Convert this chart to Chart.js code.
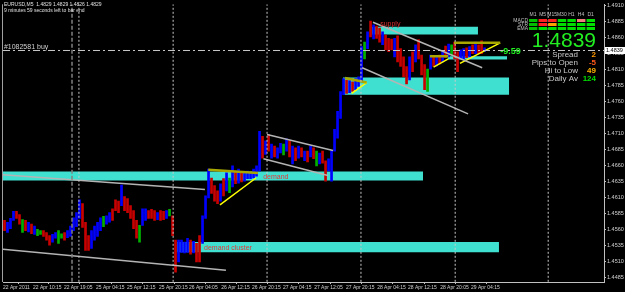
<!DOCTYPE html>
<html>
<head>
<meta charset="utf-8">
<script src="https://cdn.jsdelivr.net/npm/chart.js@4.4.0/dist/chart.umd.min.js"></script>
<style>
  html, body { margin: 0; padding: 0; background: #000; }
  #wrap { width: 625px; height: 292px; position: relative; }
</style>
</head>
<body>
<div id="wrap"><canvas id="priceChart"></canvas></div>
<script>
// EURUSD M5 - bar highs / lows
const highs = [
  1.4574, 1.4571, 1.4577, 1.4588, 1.4588, 1.4583, 1.4575, 1.4574, 1.4571, 1.4568,
  1.4565, 1.4560, 1.4558, 1.4558, 1.4555, 1.4550, 1.4552, 1.4555, 1.4558, 1.4553,
  1.4555, 1.4558, 1.4565, 1.4578, 1.4586, 1.4606, 1.4600, 1.4571, 1.4550, 1.4558,
  1.4565, 1.4571, 1.4578, 1.4580, 1.4581, 1.4586, 1.4592, 1.4606, 1.4604, 1.4629,
  1.4611, 1.4608, 1.4597, 1.4589, 1.4574, 1.4566, 1.4592, 1.4592, 1.4589, 1.4591,
  1.4589, 1.4586, 1.4589, 1.4588, 1.4589, 1.4591, 1.4581, 1.4543, 1.4543, 1.4543,
  1.4540, 1.4546, 1.4543, 1.4541, 1.4538, 1.4550, 1.4581, 1.4612, 1.4654, 1.4640,
  1.4628, 1.4620, 1.4631, 1.4639, 1.4648, 1.4640, 1.4659, 1.4651, 1.4654, 1.4648,
  1.4648, 1.4651, 1.4648, 1.4654, 1.4659, 1.4713, 1.4705, 1.4698, 1.4708, 1.4693,
  1.4690, 1.4687, 1.4694, 1.4693, 1.4701, 1.4698, 1.4690, 1.4687, 1.4690, 1.4687,
  1.4682, 1.4682, 1.4690, 1.4687, 1.4682, 1.4679, 1.4682, 1.4667, 1.4670, 1.4682,
  1.4716, 1.4744, 1.4775, 1.4795, 1.4793, 1.4792, 1.4790, 1.4795, 1.4798, 1.4845,
  1.4852, 1.4868, 1.4885, 1.4879, 1.4877, 1.4874, 1.4868, 1.4863, 1.4858, 1.4857,
  1.4858, 1.4862, 1.4842, 1.4829, 1.4814, 1.4829, 1.4837, 1.4848, 1.4856, 1.4832,
  1.4817, 1.4810, 1.4832, 1.4829, 1.4831, 1.4832, 1.4837, 1.4846, 1.4849, 1.4848,
  1.4852, 1.4837, 1.4840, 1.4842, 1.4843, 1.4845, 1.4848, 1.4852, 1.4848, 1.4854,
  1.4843
];
const lows = [
  1.4558, 1.4555, 1.4561, 1.4574, 1.4577, 1.4568, 1.4555, 1.4558, 1.4556, 1.4553,
  1.4552, 1.4550, 1.4552, 1.4549, 1.4543, 1.4535, 1.4540, 1.4546, 1.4538, 1.4546,
  1.4543, 1.4547, 1.4549, 1.4558, 1.4564, 1.4577, 1.4563, 1.4527, 1.4527, 1.4530,
  1.4543, 1.4549, 1.4558, 1.4564, 1.4568, 1.4571, 1.4574, 1.4589, 1.4586, 1.4597,
  1.4589, 1.4586, 1.4577, 1.4561, 1.4546, 1.4540, 1.4566, 1.4574, 1.4577, 1.4577,
  1.4574, 1.4575, 1.4574, 1.4575, 1.4577, 1.4581, 1.4550, 1.4493, 1.4509, 1.4524,
  1.4523, 1.4524, 1.4521, 1.4523, 1.4509, 1.4509, 1.4538, 1.4577, 1.4609, 1.4616,
  1.4604, 1.4600, 1.4604, 1.4612, 1.4620, 1.4617, 1.4626, 1.4631, 1.4632, 1.4634,
  1.4635, 1.4639, 1.4639, 1.4640, 1.4643, 1.4651, 1.4671, 1.4677, 1.4682, 1.4671,
  1.4673, 1.4671, 1.4679, 1.4676, 1.4682, 1.4673, 1.4662, 1.4667, 1.4671, 1.4673,
  1.4667, 1.4665, 1.4673, 1.4670, 1.4659, 1.4662, 1.4663, 1.4635, 1.4651, 1.4635,
  1.4682, 1.4702, 1.4733, 1.4770, 1.4772, 1.4773, 1.4775, 1.4778, 1.4783, 1.4790,
  1.4826, 1.4842, 1.4860, 1.4857, 1.4858, 1.4852, 1.4848, 1.4840, 1.4837, 1.4840,
  1.4829, 1.4821, 1.4814, 1.4798, 1.4787, 1.4793, 1.4806, 1.4821, 1.4826, 1.4801,
  1.4778, 1.4775, 1.4810, 1.4814, 1.4815, 1.4818, 1.4821, 1.4828, 1.4829, 1.4832,
  1.4826, 1.4806, 1.4825, 1.4826, 1.4828, 1.4829, 1.4834, 1.4834, 1.4834, 1.4834,
  1.4837
];
// r = bear, b = bull, g = doji
const candleDir = 'rbbbrrgrbr' + 'bggrrrbbgg' + 'rbbbbbrrrb' + 'bbbgbbrrrb' + 'rrrrrgbbrr' +
  'rbrrbgrrbb' + 'bbrbrrbbbr' + 'rrbrbgbrbr' + 'bbbbbbrbrb' + 'rbbgbrbrbr' +
  'brbrgbrrbb' + 'bbbbrbrbbb' + 'gbrbrrbrrr' + 'brrrrbrbrr' + 'rgbrbrbrbg' +
  'rrbbrbrbrr' + 'b';

const yTicks = [1.4485, 1.4510, 1.4535, 1.4560, 1.4585, 1.4610, 1.4635, 1.4660, 1.4685,
  1.4710, 1.4735, 1.4760, 1.4785, 1.4810, 1.4835, 1.4860, 1.4885, 1.4910];
const xTickPos = [-0.5, 9.5, 19.8, 30.5, 40.8, 51.5, 61.5, 72.2, 82.5, 92.8, 103.2, 113.8,
  124.2, 134.5, 145.2, 155.5];
const xTickLabels = ['22 Apr 2011', '22 Apr 10:15', '22 Apr 19:05', '25 Apr 04:15', '25 Apr 12:15',
  '25 Apr 20:15', '26 Apr 04:05', '26 Apr 12:15', '26 Apr 20:15', '27 Apr 04:15', '27 Apr 12:05',
  '27 Apr 20:15', '28 Apr 04:15', '28 Apr 12:15', '28 Apr 20:05', '29 Apr 04:15'];

const separators = [24.8, 56.2, 87.5, 118.8, 150.2, 181.2];
const bidPrice = 1.4839;

// supply / demand rectangles: [fromBar, toBar, top, bottom]
const zones = [
  [-0.5, 139.5, 1.4650, 1.4636],
  [57.5, 164.8, 1.4540, 1.4524],
  [112.8, 168.2, 1.4797, 1.4770],
  [122.5, 157.8, 1.4876, 1.4864],
  [147.8, 167.5, 1.4830, 1.4825]
];
// trend lines: [x1, y1, x2, y2]
const trendLines = [
  [-0.5, 1.4529, 73.8, 1.4496],
  [-0.5, 1.4645, 66.8, 1.4622],
  [87.5, 1.4708, 109.5, 1.4683],
  [86.3, 1.4670, 107.8, 1.4644],
  [122.8, 1.4883, 159.2, 1.4812],
  [119.2, 1.4812, 154.5, 1.4740]
];
const triangleTops = [
  [67.9, 1.4653, 84.5, 1.4648],
  [113.5, 1.4796, 120.7, 1.4789],
  [141.8, 1.4830, 147.9, 1.4830],
  [149.8, 1.4851, 165.2, 1.4851]
];
const triangleBottoms = [
  [71.8, 1.4598, 83.8, 1.4640],
  [115.7, 1.4772, 120.7, 1.4789],
  [143.0, 1.4813, 147.9, 1.4826],
  [151.8, 1.4819, 165.2, 1.4851]
];

const notes = [
  { text: 'supply', x: 125.2, y: 1.4881, color: '#d83030' },
  { text: 'demand', x: 86.2, y: 1.4642, color: '#e03a3a' },
  { text: 'demand cluster', x: 66.5, y: 1.4530, color: '#e03a3a' },
  { text: '#1082581 buy', x: -0.2, y: 1.4845, color: '#d0d0d0' }
];

const panelRows = ['MACD', 'STR', 'EMA'];
const panelCols = ['M1', 'M5', 'M15', 'M30', 'H1', 'H4', 'D1'];
const panelCells = [
  ['#00c000', '#ff2020', '#ff2020', '#00e000', '#00e000', '#f08080', '#00e000'],
  ['#00c000', '#ff2020', '#ffa000', '#00e000', '#00e000', '#00e000', '#00e000'],
  ['#00c000', '#00e000', '#00e000', '#00e000', '#00e000', '#00e000', '#00e000']
];
const statLabels = ['Spread', 'Pips to Open', 'Hi to Low', 'Daily Av'];
const statValues = ['2', '-5', '49', '124'];
const statColors = ['#ff9900', '#ff5a1a', '#ffb000', '#00e000'];

const colorOf = { r: '#c80000', b: '#0000ff', g: '#00b000' };
const line = (pts, color, width, dash) => ({
  type: 'line',
  data: [{ x: pts[0], y: pts[1] }, { x: pts[2], y: pts[3] }],
  borderColor: color, borderWidth: width, borderDash: dash || [],
  pointRadius: 0, fill: false, tension: 0, order: 1
});

const datasets = [];
zones.forEach(z => {
  datasets.push({
    type: 'line', data: [{ x: z[0], y: z[2] }, { x: z[1], y: z[2] }],
    borderWidth: 0, pointRadius: 0, fill: '+1', backgroundColor: '#40e0d0', order: 5
  });
  datasets.push({
    type: 'line', data: [{ x: z[0], y: z[3] }, { x: z[1], y: z[3] }],
    borderWidth: 0, pointRadius: 0, fill: false, order: 5
  });
});
separators.forEach(s => datasets.push(line([s, 1.4478, s, 1.4911], '#c8c8c8', 1, [2, 2])));
datasets.push(line([22.5, 1.4478, 22.5, 1.4911], '#808080', 1.5, [4, 2]));
datasets.push(line([-0.5, bidPrice, 199.8, bidPrice], '#c8c8c8', 1, [7, 3, 2, 3]));
datasets.push({
  type: 'bar',
  data: lows.map((l, i) => ({ x: i, y: [l, highs[i]] })),
  backgroundColor: candleDir.split('').map(c => colorOf[c]),
  barThickness: 2, grouped: false, order: 3
});
trendLines.forEach(t => datasets.push(line(t, '#b4b4b4', 1.5)));
triangleTops.forEach(t => datasets.push(line(t, '#a8a800', 2.5)));
triangleBottoms.forEach(t => datasets.push(line(t, '#ffff00', 1.5)));

const overlay = {
  id: 'overlay',
  afterDatasetsDraw(chart) {
    const { ctx, scales: { x, y } } = chart;
    ctx.save();
    ctx.textBaseline = 'middle';
    ctx.textAlign = 'left';
    notes.forEach(n => {
      ctx.font = '7px "Liberation Sans"';
      ctx.fillStyle = n.color;
      ctx.fillText(n.text, x.getPixelForValue(n.x), y.getPixelForValue(n.y));
    });
    ctx.font = 'bold 9px "Liberation Sans"';
    ctx.fillStyle = '#22ee22';
    ctx.fillText('-9.59', x.getPixelForValue(165.2), y.getPixelForValue(1.4837));
    ctx.restore();
  },
  afterDraw(chart) {
    const { ctx, chartArea, scales: { y } } = chart;
    ctx.save();
    // left frame
    ctx.strokeStyle = '#a0a0a0';
    ctx.lineWidth = 1;
    ctx.beginPath();
    ctx.moveTo(2.5, chartArea.top);
    ctx.lineTo(2.5, chartArea.bottom);
    ctx.stroke();
    // header text
    ctx.fillStyle = '#e0e0e0';
    ctx.font = '5px "Liberation Sans"';
    ctx.textBaseline = 'middle';
    ctx.fillText('EURUSD,M5  1.4829 1.4829 1.4826 1.4829', 4, 5);
    ctx.fillText('9 minutes 59 seconds left to bar end', 4, 11);
    // indicator grid
    ctx.fillStyle = '#c0c0c0';
    ctx.textAlign = 'right';
    panelRows.forEach((r, i) => ctx.fillText(r, 528, 20.5 + i * 4));
    ctx.textAlign = 'center';
    panelCols.forEach((c, j) => ctx.fillText(c, 533 + j * 9.6, 15));
    panelCells.forEach((row, i) => row.forEach((col, j) => {
      ctx.fillStyle = col;
      ctx.fillRect(529 + j * 9.6, 19 + i * 4, 8.4, 3);
    }));
    // current price
    ctx.textAlign = 'right';
    ctx.fillStyle = '#22ee22';
    ctx.font = '21px "Liberation Sans"';
    ctx.fillText('1.4839', 596, 41);
    // statistics
    statLabels.forEach((s, i) => {
      ctx.font = '8px "Liberation Sans"';
      ctx.fillStyle = '#c8c8c8';
      ctx.fillText(s, 578, 55 + i * 8);
      ctx.font = 'bold 8px "Liberation Sans"';
      ctx.fillStyle = statColors[i];
      ctx.fillText(statValues[i], 596, 55 + i * 8);
    });
    // bid label on the price axis
    const by = y.getPixelForValue(bidPrice);
    ctx.fillStyle = '#ffffff';
    ctx.fillRect(605, by - 3.5, 20, 7);
    ctx.fillStyle = '#000';
    ctx.textAlign = 'left';
    ctx.font = '5.5px "Liberation Sans"';
    ctx.fillText('1.4839', 606, by);
    ctx.restore();
  }
};

new Chart(document.getElementById('priceChart'), {
  type: 'bar',
  data: { datasets },
  options: {
    responsive: true,
    maintainAspectRatio: false,
    animation: false,
    layout: { padding: { left: 3, top: 2, right: 0, bottom: 0 } },
    plugins: { legend: { display: false }, tooltip: { enabled: false } },
    scales: {
      x: {
        type: 'linear', min: -0.5, max: 199.8, offset: false,
        afterBuildTicks: s => { s.ticks = xTickPos.map(v => ({ value: v })); },
        afterFit: s => { s.height = 10; },
        ticks: {
          autoSkip: false, maxRotation: 0, align: 'start', padding: 1,
          color: '#d0d0d0', font: { family: 'Liberation Sans', size: 5 },
          callback: (v, i) => xTickLabels[i]
        },
        grid: { drawOnChartArea: false, tickLength: 2, color: '#c0c0c0' },
        border: { display: true, color: '#c0c0c0' }
      },
      y: {
        position: 'right', min: 1.44777, max: 1.49111,
        afterBuildTicks: s => { s.ticks = yTicks.map(v => ({ value: v })); },
        afterFit: s => { s.width = 21; },
        ticks: {
          padding: 1, color: '#d0d0d0', font: { family: 'Liberation Sans', size: 5.5 },
          callback: v => v.toFixed(4)
        },
        grid: { drawOnChartArea: false, tickLength: 2, color: '#c0c0c0' },
        border: { display: true, color: '#c0c0c0' }
      }
    }
  },
  plugins: [overlay]
});
</script>
</body>
</html>
